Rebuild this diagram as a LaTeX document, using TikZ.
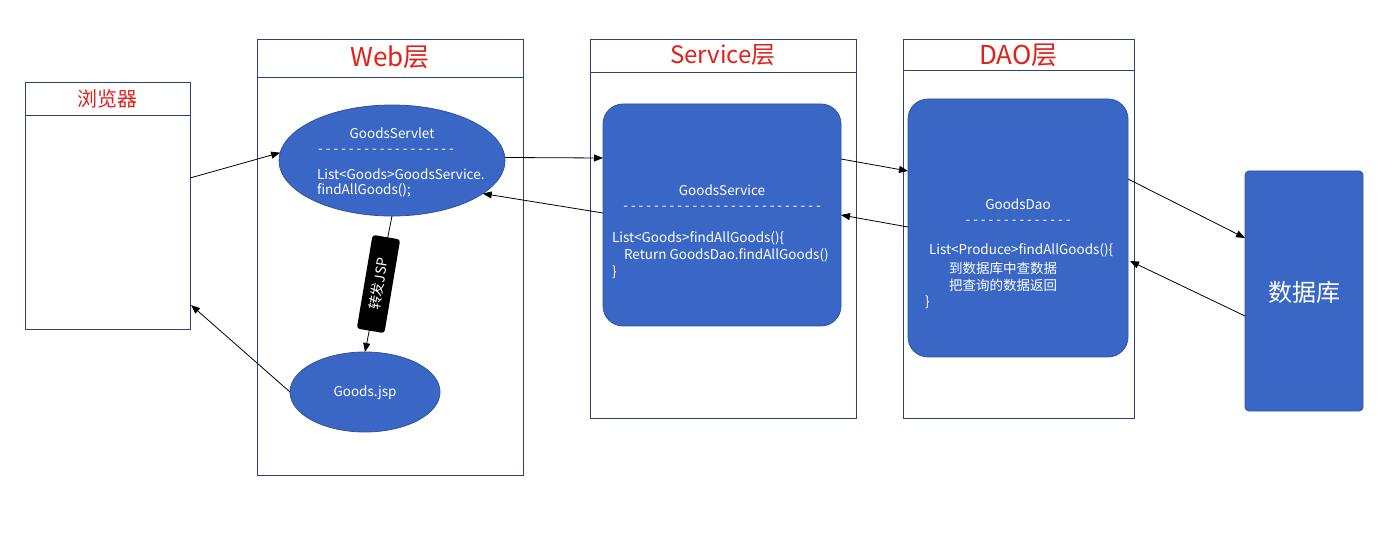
\documentclass[tikz,border=0pt]{standalone}
\usepackage{fontspec}
\newfontfamily\cjk{Noto Sans CJK SC}
\usetikzlibrary{arrows.meta,calc,shapes.geometric}
\definecolor{frame}{HTML}{2A4372}
\definecolor{boxblue}{HTML}{3A67C6}
\definecolor{boxedge}{HTML}{2F5597}
\definecolor{titlered}{HTML}{E0201B}
\tikzset{
  every node/.style={font=\cjk, inner sep=0pt, outer sep=0pt},
  framebox/.style={draw=frame, line width=0.9pt, rectangle},
  ttl/.style={text=titlered, font=\cjk\fontsize{25}{29}\selectfont},
  bluebox/.style={draw=boxedge, fill=boxblue, line width=0.8pt},
  wtxt/.style={text=white, font=\cjk\fontsize{13.5}{16}\selectfont},
  conn/.style={draw=black, line width=0.8pt, -{Triangle[length=9pt,width=7pt]}},
}
\begin{document}
\begin{tikzpicture}[x=1pt,y=-1pt]
\useasboundingbox (0,0) rectangle (1382,553);
% browser
\node[framebox, minimum width=165pt, minimum height=33pt] (browsertitle) at (107.5,98.5) {};
\node[ttl, font=\cjk\fontsize{20}{24}\selectfont] (browserlabel) at (107.5,99) {浏览器};
\node[framebox, minimum width=165pt, minimum height=214pt] (browserbody) at (107.5,222) {};
% web layer
\node[framebox, minimum width=266pt, minimum height=38pt] (webtitle) at (390,58) {};
\node[ttl, font=\cjk\fontsize{26}{30}\selectfont] (weblabel) at (390,57) {Web层};
\node[framebox, minimum width=266pt, minimum height=398pt] (webbody) at (390,276) {};
% service layer
\node[framebox, minimum width=266pt, minimum height=33pt] (servtitle) at (723,55.5) {};
\node[ttl, font=\cjk\fontsize{24}{28}\selectfont] (servlabel) at (723,55) {Service层};
\node[framebox, minimum width=266pt, minimum height=346pt] (servbody) at (723,245) {};
% dao layer
\node[framebox, minimum width=231pt, minimum height=31pt] (daotitle) at (1018.5,54.5) {};
\node[ttl, font=\cjk\fontsize{26}{30}\selectfont] (daolabel) at (1018.5,55) {DAO层};
\node[framebox, minimum width=231pt, minimum height=348pt] (daobody) at (1018.5,244) {};
% servlet ellipse
\node[bluebox, ellipse, minimum width=226pt, minimum height=111pt] (servlet) at (392,160.5) {};
\node[wtxt] (servletname) at (392,133) {GoodsServlet};
\node[wtxt] (servletdash) at (386,151) {- - - - - - - - - - - - - - - - - -};
\node[wtxt, anchor=west] (servletl1) at (317,174) {List<Goods>GoodsService.};
\node[wtxt, anchor=west] (servletl2) at (317,190) {findAllGoods();};
% jsp ellipse
\node[bluebox, ellipse, minimum width=150pt, minimum height=80pt] (jsp) at (365,392) {};
\node[wtxt] (jsplabel) at (365,393) {Goods.jsp};
% service box
\node[bluebox, rectangle, rounded corners=20pt, minimum width=238pt, minimum height=222pt] (service) at (722,215) {};
\node[wtxt] (servicename) at (722,190) {GoodsService};
\node[wtxt] (servicedash) at (722,208) {- - - - - - - - - - - - - - - - - - - - - - - - - -};
\node[wtxt, anchor=west] (servicel1) at (612,238) {List<Goods>findAllGoods()\{};
\node[wtxt, anchor=west] (servicel2) at (624,255) {Return GoodsDao.findAllGoods()};
\node[wtxt, anchor=west] (servicel3) at (612,272) {\}};
% dao box
\node[bluebox, rectangle, rounded corners=20pt, minimum width=220pt, minimum height=258pt] (dao) at (1018,228) {};
\node[wtxt] (daoname) at (1018,204) {GoodsDao};
\node[wtxt] (daodash) at (1018,222) {- - - - - - - - - - - - - -};
\node[wtxt, anchor=west] (daol1) at (929,250) {List<Produce>findAllGoods()\{};
\node[wtxt, anchor=west] (daol2) at (949,268) {到数据库中查数据};
\node[wtxt, anchor=west] (daol3) at (949,285) {把查询的数据返回};
\node[wtxt, anchor=west] (daol4) at (925,302) {\}};
% database
\node[bluebox, rectangle, rounded corners=4pt, minimum width=118pt, minimum height=240pt] (db) at (1304,291) {};
\node[text=white, font=\cjk\fontsize{24}{28}\selectfont] (dblabel) at (1304,292) {数据库};
% connectors
\draw[conn] ($(browserbody.east)+(0,-44)$) -- (servlet.176);
\draw[conn] (jsp.west) -- ($(browserbody.east)+(1,83)$);
\draw[conn] ($(servlet.east)+(0,-3)$) -- ($(service.west)+(0,-57)$);
\draw[conn] ($(service.west)+(0,-2)$) -- (servlet.-20);
\draw[conn] ($(service.east)+(0,-56)$) -- ($(dao.west)+(0,-57)$);
\draw[conn] ($(dao.west)+(0,-1)$) -- (service.east);
\draw[conn] ($(dao.east)+(0,-49)$) -- ($(db.west)+(0,-53)$);
\draw[conn] ($(db.west)+(0,25)$) -- ($(dao.east)+(2,33)$);
\draw[conn] (servlet.south) -- node[pos=0.5, rotate=80.4, fill=black, rounded corners=3pt, minimum width=95pt, minimum height=28pt, text=white, font=\cjk\fontsize{14}{16}\selectfont] (fwd) {转发JSP} (jsp.north);
\end{tikzpicture}
\end{document}
